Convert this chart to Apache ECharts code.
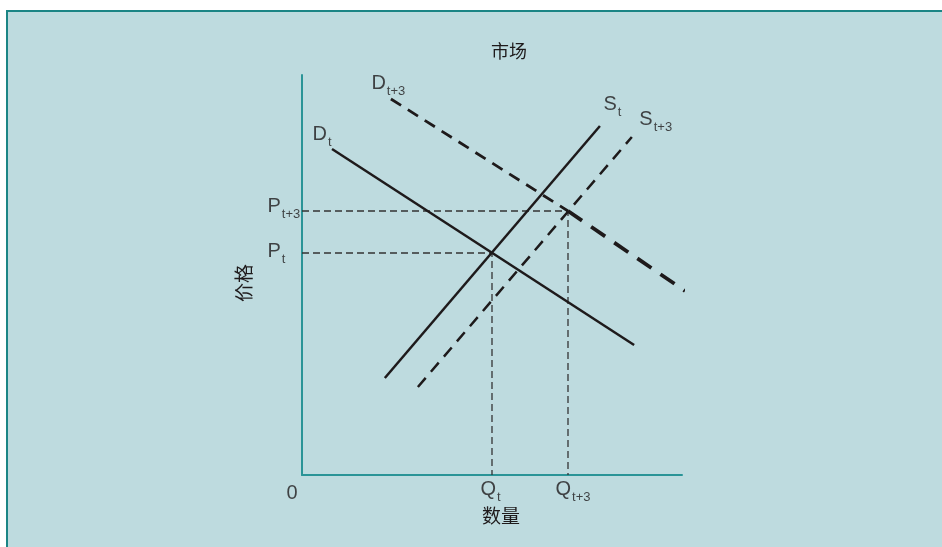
<!DOCTYPE html>
<html>
<head>
<meta charset="utf-8">
<script src="https://cdn.jsdelivr.net/npm/echarts@6/dist/echarts.min.js"></script>
<style>
  html, body { margin: 0; padding: 0; background: #fff; }
  #chart { width: 942px; height: 547px; }
</style>
</head>
<body>
<div id="chart"></div>
<script>
// 需求与供给曲线 (数量, 价格)
const demandT = [[7.9, 81.5], [87.4, 32.5]]
const demandT3Upper = [[23.4, 94.0], [70.0, 66.0]]
const demandT3Lower = [[70.0, 66.0], [100.8, 46.0]]
const supplyT = [[21.8, 24.25], [78.4, 87.25]]
const supplyT3 = [[30.5, 22.0], [86.8, 84.5]]

// 均衡点
const eqT = [50.0, 55.5]
const eqT3 = [70.0, 66.0]

const titleText = '市场'
const xName = '数量'
const yName = '价格'

const ink = '#1e1a1b'
const rich = {
  m: { fontSize: 20, lineHeight: 20, color: ink, fontFamily: 'Liberation Sans', verticalAlign: 'top' },
  s: { fontSize: 13, lineHeight: 13, color: ink, fontFamily: 'Liberation Sans', verticalAlign: 'top', padding: [11, 0, 0, 1] }
}

function lbl(point, text, offset) {
  return {
    value: point,
    label: {
      show: true,
      formatter: text,
      position: [0, 0],
      align: 'left',
      verticalAlign: 'top',
      offset: offset,
      rich: rich
    }
  }
}

function guide(eq) {
  return [[0, eq[1]], [eq[0], eq[1]], [eq[0], 0]]
}

const chart = echarts.init(document.getElementById('chart'))
chart.setOption({
  animation: false,
  backgroundColor: '#ffffff',
  title: {
    text: titleText,
    left: 486,
    top: 37,
    textStyle: { fontSize: 18, fontWeight: 'normal', color: '#1e1a1b', fontFamily: 'Noto Sans CJK SC' }
  },
  graphic: [
    {
      type: 'rect',
      z: -10,
      shape: { x: 7, y: 11, width: 950, height: 560 },
      style: { fill: '#bedbdf', stroke: '#1b8585', lineWidth: 2 }
    },
    {
      type: 'text',
      x: 501, y: 516,
      style: { text: xName, fontSize: 19, fill: '#1e1a1b', fontFamily: 'Noto Sans CJK SC', align: 'center', verticalAlign: 'middle' }
    },
    {
      type: 'text',
      x: 244, y: 283,
      rotation: Math.PI / 2,
      style: { text: yName, fontSize: 19, fill: '#1e1a1b', fontFamily: 'Noto Sans CJK SC', align: 'center', verticalAlign: 'middle' }
    }
  ],
  grid: { left: 302, right: 260, top: 75, bottom: 72 },
  xAxis: {
    type: 'value', min: 0, max: 100,
    axisLine: { lineStyle: { color: '#2a9497', width: 2 } },
    axisTick: { show: false }, axisLabel: { show: false }, splitLine: { show: false }
  },
  yAxis: {
    type: 'value', min: 0, max: 100,
    axisLine: { show: true, lineStyle: { color: '#2a9497', width: 2 } },
    axisTick: { show: false }, axisLabel: { show: false }, splitLine: { show: false }
  },
  series: [
    {
      name: 'Pt/Qt', type: 'line', data: guide(eqT), symbol: 'none',
      lineStyle: { color: '#333', width: 1.3, type: [7, 4] }
    },
    {
      name: 'Pt+3/Qt+3', type: 'line', data: guide(eqT3), symbol: 'none',
      lineStyle: { color: '#333', width: 1.3, type: [7, 4] }
    },
    {
      name: 'Dt', type: 'line', data: demandT, symbol: 'none',
      lineStyle: { color: ink, width: 2.5 }
    },
    {
      name: 'Dt+3', type: 'line', data: demandT3Upper, symbol: 'none',
      lineStyle: { color: ink, width: 2.8, type: [12, 8] }
    },
    {
      name: 'Dt+3 lower', type: 'line', data: demandT3Lower, symbol: 'none', clip: false,
      lineStyle: { color: ink, width: 3.8, type: [17, 11] }
    },
    {
      name: 'St', type: 'line', data: supplyT, symbol: 'none',
      lineStyle: { color: ink, width: 2.5 }
    },
    {
      name: 'St+3', type: 'line', data: supplyT3, symbol: 'none',
      lineStyle: { color: ink, width: 2.5, type: [12, 8] }
    },
    {
      name: 'labels', type: 'scatter', symbolSize: 1, clip: false, silent: true,
      itemStyle: { color: 'rgba(0,0,0,0)' },
      data: [
        lbl(demandT[0], '{m|D}{s|t}', [-19, -24]),
        lbl(demandT3Upper[0], '{m|D}{s|t+3}', [-19, -25]),
        lbl(supplyT[1], '{m|S}{s|t}', [4, -31]),
        lbl(supplyT3[1], '{m|S}{s|t+3}', [8, -27]),
        lbl([0, eqT[1]], '{m|P}{s|t}', [-34, -11]),
        lbl([0, eqT3[1]], '{m|P}{s|t+3}', [-34, -14]),
        lbl([eqT[0], 0], '{m|Q}{s|t}', [-11, 5]),
        lbl([eqT3[0], 0], '{m|Q}{s|t+3}', [-12, 5]),
        lbl([0, 0], '{m|0}', [-15, 9])
      ]
    }
  ]
})
</script>
</body>
</html>
